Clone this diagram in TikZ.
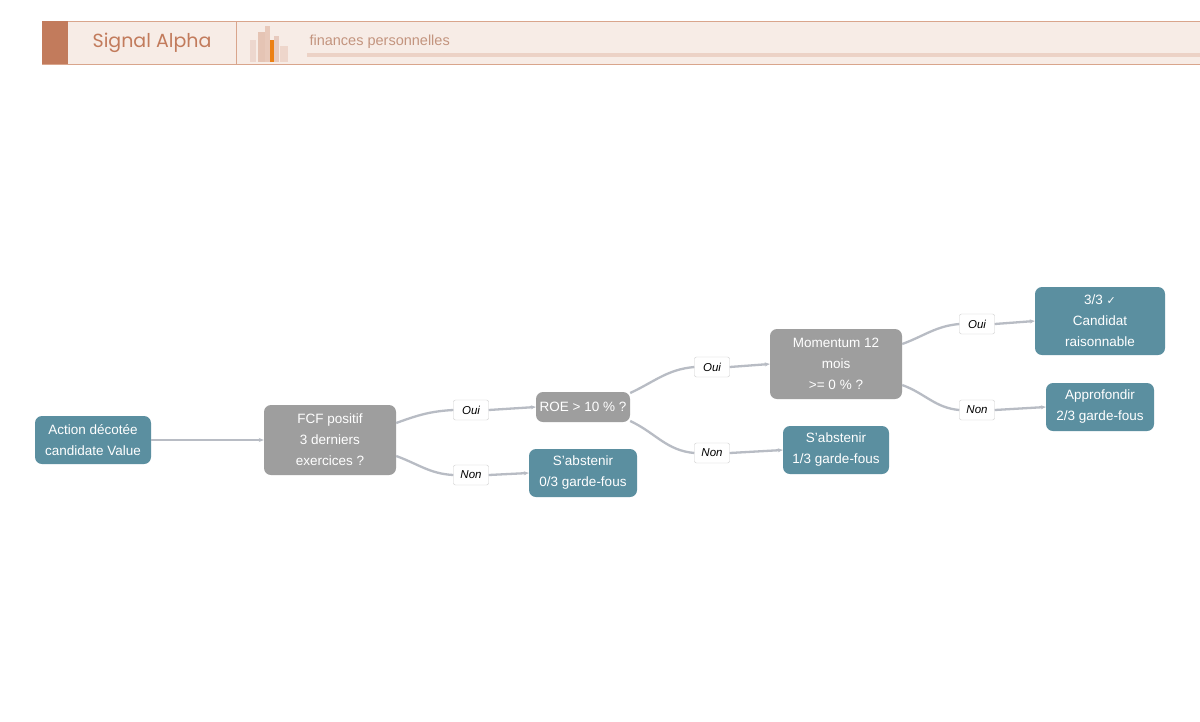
\documentclass[tikz,border=0pt]{standalone}
\usepackage{fontspec}
\setmainfont{Liberation Sans}
\newfontfamily\titlefont{Poppins}
\usetikzlibrary{arrows.meta}
\definecolor{leafblue}{HTML}{5B8FA0}
\definecolor{askgrey}{HTML}{9E9E9E}
\definecolor{edgegrey}{HTML}{B8BCC4}
\definecolor{bandfill}{HTML}{F7ECE6}
\definecolor{bandline}{HTML}{D9A58C}
\definecolor{brand}{HTML}{C27B5C}
\tikzset{
  leaf/.style={fill=leafblue,text=white,rounded corners=7pt,align=center,font=\fontsize{13.5}{21}\selectfont,inner sep=0pt},
  ask/.style={fill=askgrey,text=white,rounded corners=7pt,align=center,font=\fontsize{13.5}{21}\selectfont,inner sep=0pt},
  tag/.style={draw=gray!40,fill=white,rounded corners=2pt,font=\fontsize{11.5}{13}\selectfont\itshape,minimum width=35pt,minimum height=20pt,inner sep=0pt},
  link/.style={draw=edgegrey,line width=2.3pt,-{Stealth[length=5pt,width=4pt]}}
}
\begin{document}
\begin{tikzpicture}[x=1pt,y=-1pt]
    \useasboundingbox (0,0) rectangle (1200,721);
    % header band
    \fill[white] (0,0) rectangle (1200,721);
    \draw[bandline,fill=bandfill] (42,21) rectangle (1201,64);
    \fill[brand] (42,21) rectangle (68,64);
    \draw[bandline] (236,21) -- (236,64);
    \node[font=\titlefont\fontsize{19}{22}\selectfont,text=brand] (brandname) at (152,43) {Signal Alpha};
    \fill[brand!30] (250,40) rectangle (256,62);
    \fill[brand!20!bandline!60] (258,32) rectangle (265,62);
    \fill[bandline!60] (265,26) rectangle (270,62);
    \fill[orange!70!brown] (270,40) rectangle (275,62);
    \fill[brand!40] (274,36) rectangle (279,62);
    \fill[bandline!45] (280,46) rectangle (288,62);
    \node[anchor=west,font=\fontsize{14.5}{16}\selectfont,text=bandline!90!black] (subtitle) at (306,42) {finances personnelles};
    \fill[bandline!50] (307,53) rectangle (1200,57);
    % tree
    \node[leaf,minimum width=116pt,minimum height=48pt] (start) at (93,440) {Action décotée\\candidate Value};
    \node[ask,minimum width=132pt,minimum height=70pt] (fcf) at (330,440) {FCF positif\\3 derniers\\exercices ?};
    \node[ask,minimum width=94pt,minimum height=30pt] (roe) at (583,407) {ROE > 10 \% ?};
    \node[leaf,minimum width=108pt,minimum height=48pt] (abst0) at (583,473) {S'abstenir\\0/3 garde-fous};
    \node[ask,minimum width=132pt,minimum height=70pt] (mom) at (836,364) {Momentum 12\\mois\\>= 0 \% ?};
    \node[leaf,minimum width=106pt,minimum height=48pt] (abst1) at (836,450) {S'abstenir\\1/3 garde-fous};
    \node[leaf,minimum width=130pt,minimum height=68pt] (cand) at (1100,321) {3/3 {\fontspec{DejaVu Sans}\fontsize{11}{13}\selectfont ✓}\\Candidat\\raisonnable};
    \node[leaf,minimum width=108pt,minimum height=48pt] (appro) at (1100,407) {Approfondir\\2/3 garde-fous};
    \node[tag] (oui1) at (471,410) {Oui};
    \node[tag] (non1) at (471,475) {Non};
    \node[tag] (oui2) at (712,367) {Oui};
    \node[tag] (non2) at (712,453) {Non};
    \node[tag] (oui3) at (977,324) {Oui};
    \node[tag] (non3) at (977,410) {Non};
    \draw[link] (start) -- (fcf);
    \draw[link] (fcf.east |- 0,423) to[out=20,in=183] (oui1.west) (oui1.east) -- (roe.west);
    \draw[link] (fcf.east |- 0,456) to[out=-20,in=177] (non1.west) (non1.east) -- (abst0.west);
    \draw[link] (roe.east |- 0,393) to[out=25,in=185] (oui2.west) (oui2.east) -- (mom.west);
    \draw[link] (roe.east |- 0,421) to[out=-25,in=175] (non2.west) (non2.east) -- (abst1.west);
    \draw[link] (mom.east |- 0,344) to[out=20,in=185] (oui3.west) (oui3.east) -- (cand.west);
    \draw[link] (mom.east |- 0,385) to[out=-20,in=175] (non3.west) (non3.east) -- (appro.west);
\end{tikzpicture}
\end{document}
